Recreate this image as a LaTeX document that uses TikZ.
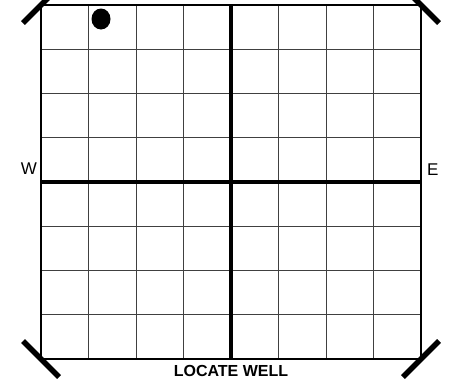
\documentclass[tikz,border=0pt]{standalone}
\usepackage{fontspec}
\setmainfont{Liberation Sans}
\usepackage{tikz}
\usetikzlibrary{positioning,calc,shapes.geometric}

\begin{document}
\begin{tikzpicture}[
  x=1pt, y=-1pt,
  gridline/.style={draw=black!75, line width=0.8pt},
  frame/.style={draw=black, line width=2.6pt},
  axis/.style={draw=black, line width=4.8pt},
  cornermark/.style={draw=black, line width=5.5pt},
  well/.style={ellipse, fill=black, minimum width=19pt, minimum height=21pt, inner sep=0pt},
  dirlab/.style={font=\fontsize{17}{17}\selectfont, inner sep=0pt},
  caption/.style={font=\bfseries\fontsize{16}{16}\selectfont, inner sep=0pt}
]
  \useasboundingbox (0,0) rectangle (449,383);

  % section corners
  \coordinate (NW) at (41,5);
  \coordinate (NE) at (421,5);
  \coordinate (SW) at (41,359);
  \coordinate (SE) at (421,359);

  % thin grid lines
  \foreach \i in {1,2,3,5,6,7} {
    \draw[gridline] ($(NW)!\i/8!(NE)$) -- ($(SW)!\i/8!(SE)$);
    \draw[gridline] ($(NW)!\i/8!(SW)$) -- ($(NE)!\i/8!(SE)$);
  }

  % centre lines
  \coordinate (N) at ($(NW)!0.5!(NE)$);
  \coordinate (S) at ($(SW)!0.5!(SE)$);
  \coordinate (W) at ($(NW)!0.5!(SW)$);
  \coordinate (E) at ($(NE)!0.5!(SE)$);
  \draw[axis] (N) -- (S);
  \draw[axis] (W) -- (E);

  % outer frame
  \draw[frame] (NW) rectangle (SE);

  % corner marks
  \draw[cornermark] ($(NW)+(-18,18)$) -- ($(NW)+(18,-18)$);
  \draw[cornermark] ($(NE)+(-18,-18)$) -- ($(NE)+(18,18)$);
  \draw[cornermark] ($(SW)+(-18,-18)$) -- ($(SW)+(18,18)$);
  \draw[cornermark] ($(SE)+(18,-18)$) -- ($(SE)+(-18,18)$);

  % well location
  \node[well] (wellspot) at (101,19) {};

  % labels
  \node[dirlab, left=4pt of W, yshift=13pt] (west) {W};
  \node[dirlab, right=6pt of E, yshift=12pt] (east) {E};
  \node[caption, below=6pt of S] (locate) {LOCATE WELL};
\end{tikzpicture}
\end{document}
